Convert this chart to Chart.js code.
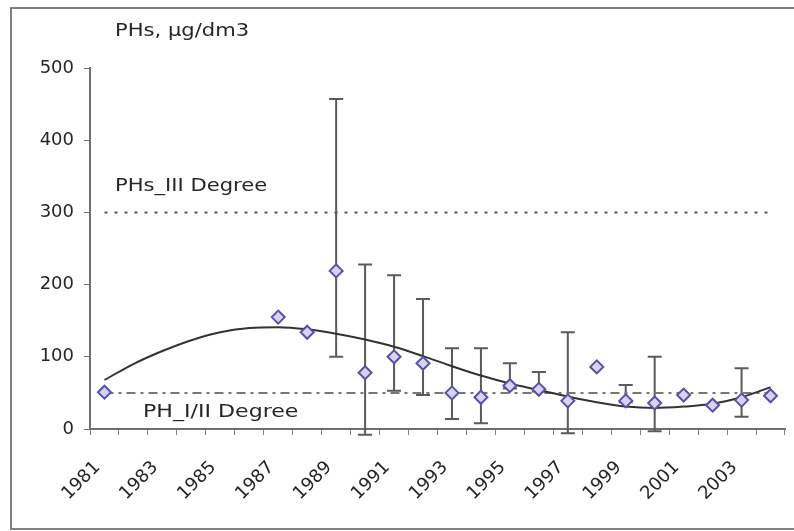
<!DOCTYPE html>
<html><head><meta charset="utf-8">
<script src="https://cdn.jsdelivr.net/npm/chart.js@4"></script>
<style>html,body{margin:0;padding:0;background:#fff}#wrap{width:794px;height:531px}</style>
</head><body><div id="wrap"><canvas id="c" width="794" height="531"></canvas></div>
<script>
// ---- data ----
const years = ['1981','1982','1983','1984','1985','1986','1987','1988','1989','1990','1991','1992',
               '1993','1994','1995','1996','1997','1998','1999','2000','2001','2002','2003','2004'];
const phsValues = [51, null, null, null, null, null, 155, 134, 219, 78, 100, 91,
                   50, 44, 60, 55, 39, 86, 39, 36, 47, 33, 40, 46];
const errHigh   = [null, null, null, null, null, null, null, null, 457, 228, 213, 180,
                   112, 112, 91, 79, 134, null, 61, 100, null, null, 84, null];
const errLow    = [null, null, null, null, null, null, null, null, 100, -8, 53, 47,
                   14, 8, 56, 52, -6, null, 37, -3, null, null, 17, null];
const trendValues = [68, 90, 108, 123, 134, 140, 141, 138, 132, 124, 114, 101,
                     87, 74, 63, 54, 45, 37, 31, 29, 31, 35, 44, 58];
const levelIII = 300;
const levelI_II = 50;
const yTicks = [0, 100, 200, 300, 400, 500];
const yTitle = 'PHs, µg/dm3';
const labelIII = 'PHs_III Degree';
const labelI_II = 'PH_I/II Degree';

const FONT = 'DejaVu Sans';
const TXT = '#262626';

const framePlugin = {
  id: 'frame',
  beforeDraw(chart) {
    const ctx = chart.ctx;
    ctx.save();
    ctx.fillStyle = '#ffffff';
    ctx.fillRect(0, 0, chart.width, chart.height);
    ctx.strokeStyle = '#808080';
    ctx.lineWidth = 2;
    ctx.strokeRect(11, 8, 800, 521);
    ctx.restore();
  }
};

const errorBarPlugin = {
  id: 'errorBars',
  beforeDatasetsDraw(chart) {
    const ctx = chart.ctx, xs = chart.scales.x, ys = chart.scales.y;
    ctx.save();
    ctx.strokeStyle = '#5a5a5a';
    ctx.lineWidth = 2;
    for (let i = 0; i < years.length; i++) {
      if (errHigh[i] == null) continue;
      const x = xs.getPixelForValue(i);
      const yh = ys.getPixelForValue(errHigh[i]);
      const yl = ys.getPixelForValue(errLow[i]);
      ctx.beginPath();
      ctx.moveTo(x, yh); ctx.lineTo(x, yl);
      ctx.moveTo(x - 7, yh); ctx.lineTo(x + 7, yh);
      ctx.moveTo(x - 7, yl); ctx.lineTo(x + 7, yl);
      ctx.stroke();
    }
    ctx.restore();
  }
};

const textPlugin = {
  id: 'texts',
  afterDraw(chart) {
    const ctx = chart.ctx, ys = chart.scales.y;
    const put = (t, x, y, sx) => {
      ctx.save();
      ctx.translate(x, y);
      ctx.scale(sx, 1);
      ctx.fillText(t, 0, 0);
      ctx.restore();
    };
    ctx.save();
    ctx.fillStyle = TXT;
    ctx.font = '17px "' + FONT + '"';
    ctx.textBaseline = 'middle';
    ctx.textAlign = 'left';
    put(yTitle, 115, 32, 1.24);
    put(labelIII, 115, ys.getPixelForValue(levelIII) - 26, 1.24);
    put(labelI_II, 143, ys.getPixelForValue(levelI_II) + 20, 1.3);
    ctx.restore();
  }
};

new Chart(document.getElementById('c'), {
  type: 'line',
  data: {
    labels: years,
    datasets: [
      {
        label: 'PHs',
        data: phsValues,
        showLine: false,
        pointStyle: 'rectRot',
        pointRadius: 6.5,
        pointBorderWidth: 2,
        pointBorderColor: '#5a50a8',
        pointBackgroundColor: '#d6d4f4',
        order: 0
      },
      {
        label: 'Trend',
        data: trendValues,
        borderColor: '#333333',
        borderWidth: 2,
        pointRadius: 0,
        tension: 0.4,
        cubicInterpolationMode: 'monotone',
        fill: false,
        order: 1
      },
      {
        label: labelIII,
        data: years.map(() => levelIII),
        borderColor: '#555555',
        borderWidth: 2,
        borderDash: [3, 7],
        pointRadius: 0,
        fill: false,
        order: 2
      },
      {
        label: labelI_II,
        data: years.map(() => levelI_II),
        borderColor: '#777777',
        borderWidth: 2,
        borderDash: [9, 5, 3, 5],
        pointRadius: 0,
        fill: false,
        order: 3
      }
    ]
  },
  options: {
    responsive: false,
    animation: false,
    devicePixelRatio: 1,
    layout: { padding: { left: 0, top: 68, right: 9, bottom: 0 } },
    plugins: { legend: { display: false }, tooltip: { enabled: false } },
    scales: {
      x: {
        type: 'category',
        offset: true,
        grid: { offset: true, drawOnChartArea: false, drawTicks: true, tickLength: 6, color: '#808080', lineWidth: 1 },
        border: { color: '#707070', width: 2 },
        ticks: {
          autoSkip: false, maxRotation: 45, minRotation: 45, padding: 22, labelOffset: -7,
          color: TXT, font: { family: FONT, size: 18 },
          callback: (v, i) => (i % 2 === 0 ? years[i] : '')
        },
        afterFit: s => { s.height = 102; s.paddingLeft = 0; s.paddingRight = 0; }
      },
      y: {
        min: 0, max: 500,
        afterBuildTicks: s => { s.ticks = yTicks.map(v => ({ value: v })); },
        grid: { drawOnChartArea: false, drawTicks: true, tickLength: 6, color: '#707070' },
        border: { color: '#707070', width: 2 },
        ticks: { padding: 10, color: TXT, font: { family: FONT, size: 18 } },
        afterFit: s => { s.width = 90; }
      }
    }
  },
  plugins: [framePlugin, errorBarPlugin, textPlugin]
});
</script>
</body></html>
